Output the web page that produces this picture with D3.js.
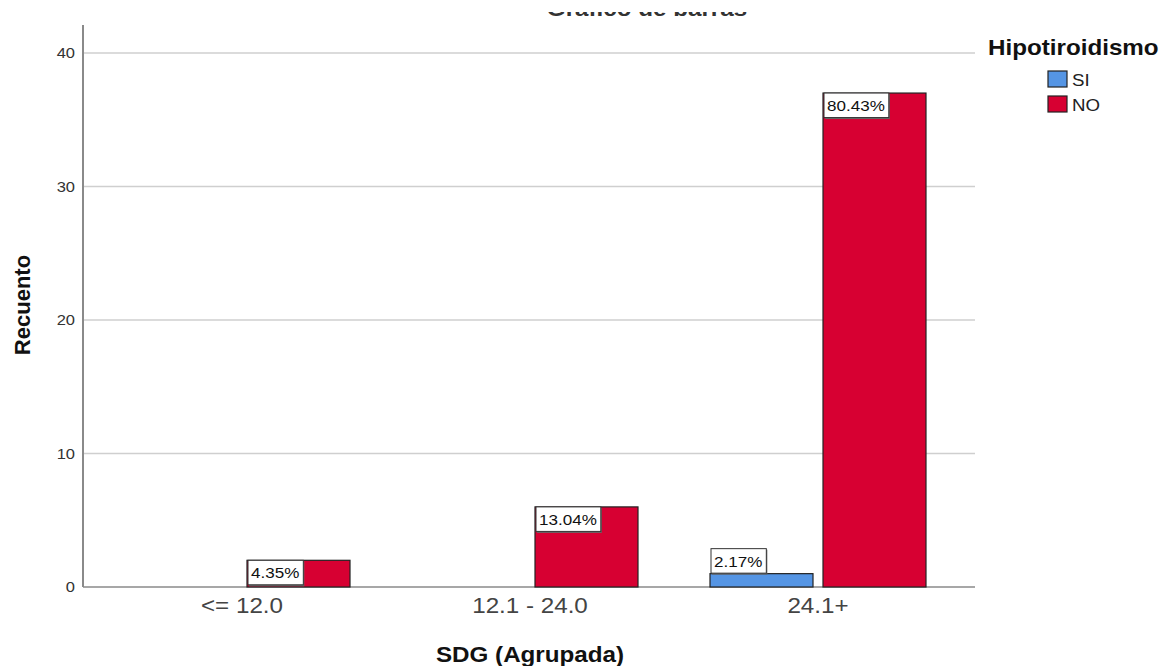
<!DOCTYPE html>
<html>
<head>
<meta charset="utf-8">
<script src="https://cdn.jsdelivr.net/npm/d3@7/dist/d3.min.js"></script>
<style>
  html, body { margin: 0; padding: 0; background: #fff; }
  svg { display: block; font-family: "Liberation Sans", Arial, sans-serif; }
</style>
</head>
<body>
<svg id="chart" width="1166" height="666"></svg>
<script>
// Grouped counts of pregnancy weeks (SDG) by hypothyroidism status
const categories = ["<= 12.0", "12.1 - 24.0", "24.1+"];
const seriesNames = ["SI", "NO"];
const countsSI = [0, 0, 1];
const countsNO = [2, 6, 37];
const yTicks = [0, 10, 20, 30, 40];
const total = d3.sum(countsSI) + d3.sum(countsNO);

const colors = { SI: "#5595e4", NO: "#d70032" };
const svg = d3.select("#chart");

// text in this chart is set slightly wide
const SX = 1.1;
function placeText(sel, x, y) {
  return sel.attr("x", 0).attr("y", 0)
    .attr("transform", `translate(${x},${y}) scale(${SX},1)`);
}

const plotLeft = 83, plotRight = 975, plotTop = 25, plotBottom = 587;

const x0 = d3.scaleBand().domain(categories).range([98, 962]).paddingInner(0).paddingOuter(0);
const x1 = d3.scaleBand().domain(seriesNames)
  .range([x0.bandwidth() / 2 - 108, x0.bandwidth() / 2 + 108])
  .paddingInner(10 / 113).paddingOuter(0);
const y = d3.scaleLinear().domain([0, 40]).range([plotBottom, 53]);

// Chart title, cut off at the top edge
svg.append("defs").append("clipPath").attr("id", "titleClip")
  .append("rect").attr("x", 0).attr("y", 12).attr("width", 1166).attr("height", 20);
svg.append("g").attr("clip-path", "url(#titleClip)")
  .append("text")
  .call(placeText, 647, 16)
  .attr("text-anchor", "middle")
  .attr("font-size", 22).attr("font-weight", "bold").attr("fill", "#333")
  .text("Gráfico de barras");

// Horizontal gridlines
svg.append("g").selectAll("line").data(yTicks.filter(t => t > 0)).join("line")
  .attr("x1", plotLeft).attr("x2", plotRight)
  .attr("y1", d => y(d)).attr("y2", d => y(d))
  .attr("stroke", "#cfcfcf").attr("stroke-width", 1.5);

// Y axis
const yAxis = svg.append("g").attr("transform", `translate(${plotLeft},0)`)
  .call(d3.axisLeft(y).tickValues(yTicks).tickSize(0).tickPadding(8));
yAxis.select(".domain").remove();
yAxis.selectAll("text").attr("font-size", 15).attr("fill", "#333")
  .attr("font-family", "Liberation Sans, Arial, sans-serif")
  .attr("transform", `scale(${SX},1)`).attr("x", -8 / SX);
svg.append("line").attr("x1", plotLeft).attr("x2", plotLeft).attr("y1", plotTop).attr("y2", plotBottom)
  .attr("stroke", "#8a8a8a").attr("stroke-width", 2);

// X axis
const xAxis = svg.append("g").attr("transform", `translate(0,${plotBottom})`)
  .call(d3.axisBottom(x0).tickSize(0).tickPadding(10));
xAxis.select(".domain").remove();
xAxis.selectAll("text").attr("font-size", 22).attr("fill", "#444")
  .attr("font-family", "Liberation Sans, Arial, sans-serif")
  .attr("transform", `scale(${SX},1)`);
svg.append("line").attr("x1", plotLeft).attr("x2", plotRight).attr("y1", plotBottom).attr("y2", plotBottom)
  .attr("stroke", "#8a8a8a").attr("stroke-width", 1.5);

// Bars
const rows = categories.map((c, i) => ({ cat: c, SI: countsSI[i], NO: countsNO[i] }));
const groups = svg.append("g").selectAll("g").data(rows).join("g")
  .attr("transform", d => `translate(${x0(d.cat)},0)`);

const bars = groups.selectAll("g.bar")
  .data(d => seriesNames.map(s => ({ s, v: d[s] })).filter(b => b.v > 0))
  .join("g").attr("class", "bar");

bars.append("rect")
  .attr("x", d => x1(d.s)).attr("width", x1.bandwidth())
  .attr("y", d => y(d.v)).attr("height", d => y(0) - y(d.v))
  .attr("fill", d => colors[d.s])
  .attr("stroke", "#222").attr("stroke-width", 1.2);

// Percentage labels in boxes at the top-left of each bar
const boxH = 25;
bars.each(function(d) {
  const g = d3.select(this);
  const pct = (d.v / total * 100).toFixed(2) + "%";
  const bx = x1(d.s) + 1;
  const barH = y(0) - y(d.v);
  const by = barH >= boxH ? y(d.v) : y(d.v) - boxH;
  const t = g.append("text")
    .call(placeText, bx + 3, by + 18)
    .attr("font-size", 15.5).attr("fill", "#111")
    .text(pct);
  const w = t.node().getComputedTextLength() * SX + 7;
  g.insert("rect", "text")
    .attr("x", bx + 1).attr("y", by + 1).attr("width", w).attr("height", boxH)
    .attr("fill", "#666");
  g.insert("rect", "text")
    .attr("x", bx).attr("y", by).attr("width", w).attr("height", boxH - 0.5)
    .attr("fill", "#fff").attr("stroke", "#333").attr("stroke-width", 1);
});

// Axis titles
svg.append("text").call(placeText, 530, 662).attr("text-anchor", "middle")
  .attr("font-size", 22).attr("font-weight", "bold").attr("fill", "#111")
  .text("SDG (Agrupada)");
svg.append("text").attr("transform", "translate(30,305) rotate(-90)")
  .attr("text-anchor", "middle")
  .attr("font-size", 22).attr("font-weight", "bold").attr("fill", "#111")
  .text("Recuento");

// Legend
const legend = svg.append("g");
legend.append("text").call(placeText, 988, 55)
  .attr("font-size", 22).attr("font-weight", "bold").attr("fill", "#111")
  .text("Hipotiroidismo");
const li = legend.selectAll("g.item").data(seriesNames).join("g").attr("class", "item")
  .attr("transform", (d, i) => `translate(1048,${71 + i * 25})`);
li.append("rect").attr("width", 19).attr("height", 16)
  .attr("fill", d => colors[d]).attr("stroke", "#222").attr("stroke-width", 1.2);
li.append("text").call(placeText, 24, 15)
  .attr("font-size", 17).attr("fill", "#222").text(d => d);
</script>
</body>
</html>
